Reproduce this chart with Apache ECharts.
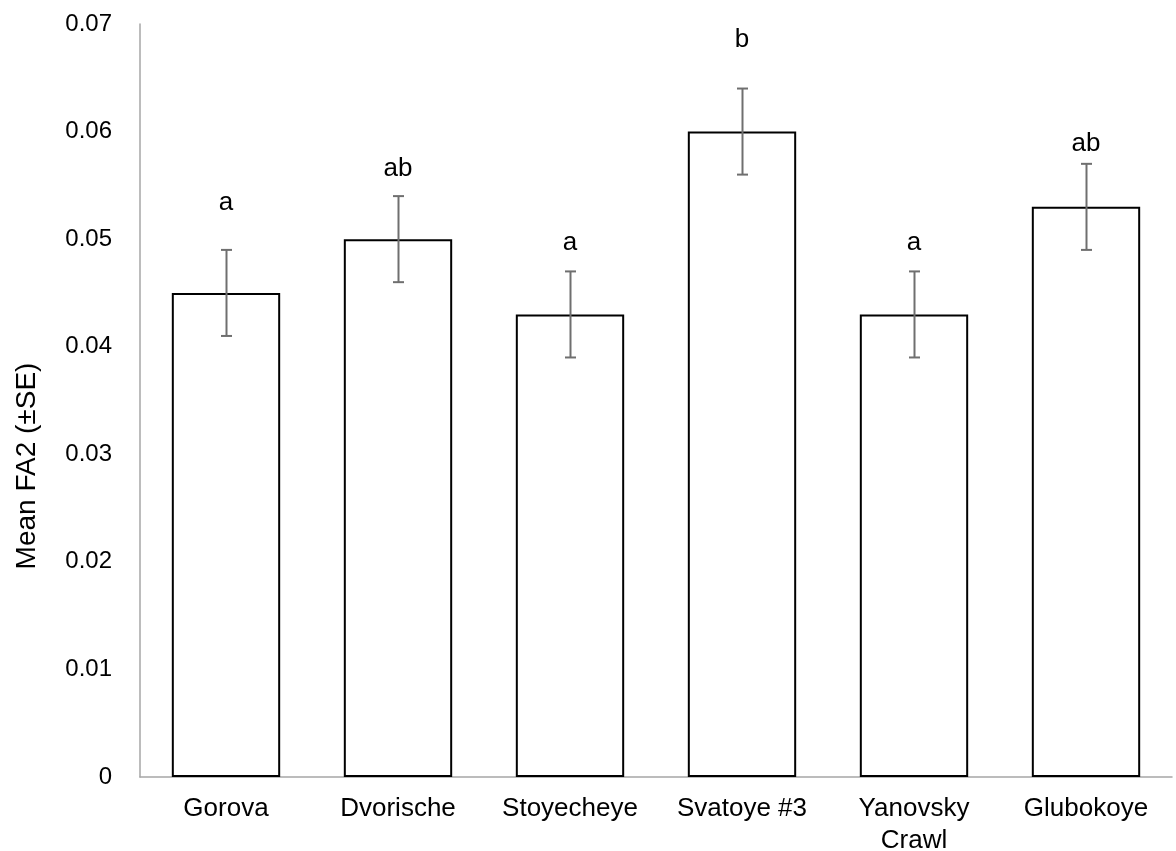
<!DOCTYPE html>
<html>
<head>
<meta charset="utf-8">
<script src="https://cdn.jsdelivr.net/npm/echarts@6/dist/echarts.min.js"></script>
<style>
  html, body { margin: 0; padding: 0; background: #fff; }
  #chart { width: 1176px; height: 851px; }
</style>
</head>
<body>
<div id="chart"></div>
<script>
// Sites and mean FA2 with standard errors
const sites = ['Gorova', 'Dvorische', 'Stoyecheye', 'Svatoye #3', 'Yanovsky\nCrawl', 'Glubokoye'];
const meanFA2 = [0.045, 0.050, 0.043, 0.060, 0.043, 0.053];
const stdErr = [0.004, 0.004, 0.004, 0.004, 0.004, 0.004];
// Significance groups and the value level each letter is written at
const groups = ['a', 'ab', 'a', 'b', 'a', 'ab'];
const groupLevel = [0.0534, 0.0565, 0.0497, 0.0685, 0.0497, 0.0589];
const yTicks = [0, 0.01, 0.02, 0.03, 0.04, 0.05, 0.06, 0.07];

const FONT = '"Liberation Sans", Arial, Helvetica, sans-serif';

const chart = echarts.init(document.getElementById('chart'), null, { renderer: 'canvas' });

const option = {
  backgroundColor: '#ffffff',
  animation: false,
  grid: {
    left: 140, right: 4, top: 24, bottom: 74,
    containLabel: false,
    outerBoundsMode: 'none'
  },
  xAxis: {
    type: 'category',
    data: sites,
    axisLine: { show: true, lineStyle: { color: '#a6a6a6', width: 1.5 } },
    axisTick: { show: false },
    axisLabel: {
      color: '#000', fontFamily: FONT, fontSize: 26, margin: 16, lineHeight: 32,
      interval: 0
    },
    splitLine: { show: false }
  },
  yAxis: {
    type: 'value',
    min: yTicks[0],
    max: yTicks[yTicks.length - 1],
    interval: 0.01,
    axisLine: { show: true, lineStyle: { color: '#a6a6a6', width: 1.5 } },
    axisTick: { show: false },
    splitLine: { show: false },
    axisLabel: {
      color: '#000', fontFamily: FONT, fontSize: 24, margin: 28,
      formatter: v => (Math.round(v * 100) / 100).toString()
    }
  },
  graphic: [{
    type: 'text',
    x: 27,
    y: 466,
    rotation: Math.PI / 2,
    style: {
      text: 'Mean FA2 (±SE)',
      font: '28px ' + FONT,
      fill: '#000',
      textAlign: 'center',
      textVerticalAlign: 'middle'
    }
  }],
  series: [
    {
      type: 'bar',
      data: meanFA2,
      barWidth: '63%',
      itemStyle: { color: '#ffffff', borderColor: '#000000', borderWidth: 2 },
      z: 2
    },
    {
      // ±SE whiskers with caps
      type: 'custom',
      z: 3,
      data: meanFA2.map((m, i) => [i, m - stdErr[i], m + stdErr[i]]),
      renderItem: (params, api) => {
        const lo = api.coord([api.value(0), api.value(1)]);
        const hi = api.coord([api.value(0), api.value(2)]);
        const x = Math.round(lo[0]) + 0.5;
        const cap = 5.5;
        const style = { stroke: '#6f6f6f', lineWidth: 2, fill: null };
        return {
          type: 'group',
          children: [
            { type: 'line', shape: { x1: x, y1: lo[1], x2: x, y2: hi[1] }, style },
            { type: 'line', shape: { x1: x - cap, y1: hi[1], x2: x + cap, y2: hi[1] }, style },
            { type: 'line', shape: { x1: x - cap, y1: lo[1], x2: x + cap, y2: lo[1] }, style }
          ]
        };
      }
    },
    {
      // group letters above each bar
      type: 'custom',
      z: 4,
      data: groupLevel.map((v, i) => [i, v, groups[i]]),
      renderItem: (params, api) => {
        const p = api.coord([api.value(0), api.value(1)]);
        return {
          type: 'text',
          x: p[0],
          y: p[1],
          style: {
            text: groups[params.dataIndex],
            font: '26px ' + FONT,
            fill: '#000',
            textAlign: 'center',
            textVerticalAlign: 'middle'
          }
        };
      }
    }
  ]
};

chart.setOption(option);
</script>
</body>
</html>
